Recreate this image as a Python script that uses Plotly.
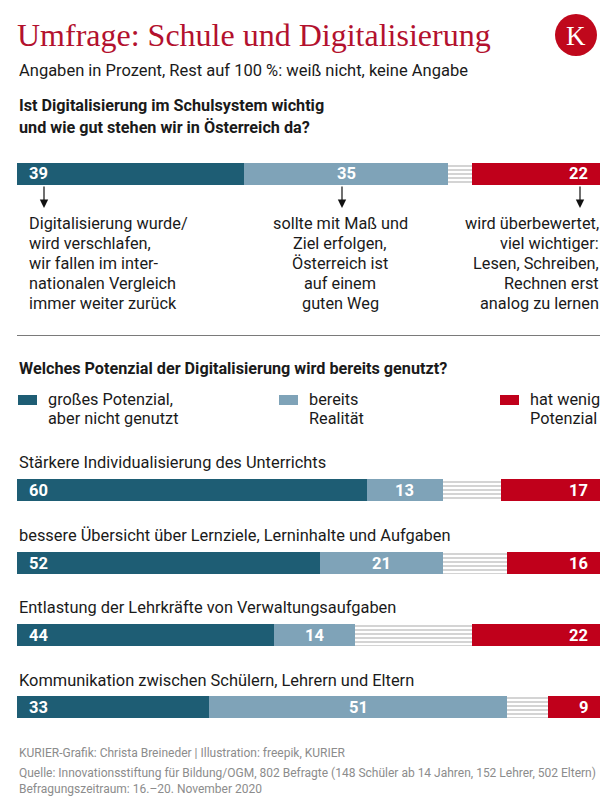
import plotly.graph_objects as go

W, H = 616, 809

# ---------------- data ----------------
q1_values = [39, 35, 4, 22]   # wurde verschlafen, mit Maß und Ziel, Rest, überbewertet

categories = [
    "Stärkere Individualisierung des Unterrichts",
    "bessere Übersicht über Lernziele, Lerninhalte und Aufgaben",
    "Entlastung der Lehrkräfte von Verwaltungsaufgaben",
    "Kommunikation zwischen Schülern, Lehrern und Eltern",
]
gross_potenzial = [60, 52, 44, 33]
bereits_realitaet = [13, 21, 14, 51]
rest_weiss_nicht = [10, 11, 20, 7]
wenig_potenzial = [17, 16, 22, 9]

legend_labels = ["großes Potenzial,<br>aber nicht genutzt", "bereits<br>Realität", "hat wenig<br>Potenzial"]

q1_texts = [
    ["Digitalisierung wurde/", "wird verschlafen,", "wir fallen im inter-", "nationalen Vergleich", "immer weiter zurück"],
    ["sollte mit Maß und", "Ziel erfolgen,", "Österreich ist", "auf einem", "guten Weg"],
    ["wird überbewertet,", "viel wichtiger:", "Lesen, Schreiben,", "Rechnen erst", "analog zu lernen"],
]

# ---------------- style / layout ----------------
DARK = "#1e5d74"
LIGHT = "#7fa3b8"
RED = "#c0001b"
TITLE_RED = "#b3112e"
FONT = "Roboto"
TXT = "#1a1a1a"

X0, X1 = 17, 600
top_bar_y = 173.5
cat_bar_y = [490, 563, 635, 707]
cat_label_y = [462, 535, 607, 680]
BAR_W = 22


def px(x):
    return x / W


def py(y):
    return 1 - y / H


fig = go.Figure()

def add_segments(ys, dark, light, rest, red):
    fig.add_trace(go.Bar(x=dark, y=ys, orientation="h", width=BAR_W, marker=dict(color=DARK, line=dict(width=0)), hoverinfo="skip"))
    fig.add_trace(go.Bar(x=light, y=ys, orientation="h", width=BAR_W, marker=dict(color=LIGHT, line=dict(width=0)), hoverinfo="skip"))
    fig.add_trace(go.Bar(x=rest, y=ys, orientation="h", width=BAR_W,
                         marker=dict(color="white", line=dict(width=0),
                                     pattern=dict(shape="-", fgcolor="#b8b8b8", bgcolor="white", size=4, solidity=0.3, fillmode="replace")),
                         hoverinfo="skip"))
    fig.add_trace(go.Bar(x=red, y=ys, orientation="h", width=BAR_W, marker=dict(color=RED, line=dict(width=0)), hoverinfo="skip"))


add_segments([top_bar_y], [q1_values[0]], [q1_values[1]], [q1_values[2]], [q1_values[3]])
add_segments(cat_bar_y, gross_potenzial, bereits_realitaet, rest_weiss_nicht, wenig_potenzial)

ann = []


def text(x, y, s, size=16, color=TXT, anchor="left", family=FONT, bold=False):
    ann.append(dict(x=px(x), y=py(y), xref="paper", yref="paper", text=(f"<b>{s}</b>" if bold else s),
                    showarrow=False, xanchor=anchor, yanchor="middle",
                    font=dict(family=family, size=size, color=color)))


def bar_labels(y, d, l, r):
    lab = dict(family=FONT, size=16.5, color="white")
    ann.append(dict(x=0, y=y, xref="x", yref="y", text=f"<b>{d}</b>", showarrow=False, xanchor="left", xshift=10, font=lab))
    ann.append(dict(x=d + l / 2, y=y, xref="x", yref="y", text=f"<b>{l}</b>", showarrow=False, xanchor="center", font=lab))
    ann.append(dict(x=100, y=y, xref="x", yref="y", text=f"<b>{r}</b>", showarrow=False, xanchor="right", xshift=-10, font=lab))


# title & subtitle
text(15, 35, "Umfrage: Schule und Digitalisierung", size=32, color=TITLE_RED, family="Liberation Serif")
text(17, 71, "Angaben in Prozent, Rest auf 100 %: weiß nicht, keine Angabe", size=16.5)
text(17, 106, "Ist Digitalisierung im Schulsystem wichtig", size=16.2, bold=True)
text(17, 128, "und wie gut stehen wir in Österreich da?", size=16.2, bold=True)

# top bar labels
bar_labels(top_bar_y, q1_values[0], q1_values[1], q1_values[3])

# arrows
for ax_ in [44, 342, 580]:
    ann.append(dict(x=px(ax_), y=py(208), xref="paper", yref="paper", text="", showarrow=True,
                    ax=0, ay=-23, arrowhead=2, arrowsize=1.4, arrowwidth=1.2, arrowcolor="#111"))

# annotation texts under top bar
line_y = [223, 243, 263, 283, 303]
for i, ln in enumerate(q1_texts[0]):
    text(27, line_y[i], ln, size=16.3)
for i, ln in enumerate(q1_texts[1]):
    text(340, line_y[i], ln, size=16.3, anchor="center")
for i, ln in enumerate(q1_texts[2]):
    text(601, line_y[i], ln, size=16.3, anchor="right")

# second question
text(17, 368, "Welches Potenzial der Digitalisierung wird bereits genutzt?", size=16.2, bold=True)

# legend
leg_x = [18, 279, 500]
leg_colors = [DARK, LIGHT, RED]
shapes = []
for lx, lc, lt in zip(leg_x, leg_colors, legend_labels):
    shapes.append(dict(type="rect", xref="paper", yref="paper", x0=px(lx), x1=px(lx + 19), y0=py(405), y1=py(395),
                       fillcolor=lc, line=dict(width=0)))
    l1, l2 = lt.split("<br>")
    text(lx + 28, 399, l1, size=16.3)
    text(lx + 28, 418, l2, size=16.3)

# categories
for lab, yb, yl, d, l, r in zip(categories, cat_bar_y, cat_label_y, gross_potenzial, bereits_realitaet, wenig_potenzial):
    text(17, yl, lab, size=16.4)
    bar_labels(yb, d, l, r)

# footer
FOOT = "#8c8c8c"
text(17, 753, "KURIER-Grafik: Christa Breineder | Illustration: freepik, KURIER", size=12, color=FOOT)
text(17, 773, "Quelle: Innovationsstiftung für Bildung/OGM, 802 Befragte (148 Schüler ab 14 Jahren, 152 Lehrer, 502 Eltern)", size=12, color=FOOT)
text(17, 789, "Befragungszeitraum: 16.–20. November 2020", size=12, color=FOOT)

# separator line
shapes.append(dict(type="line", xref="paper", yref="paper", x0=px(X0), x1=px(X1), y0=py(335.5), y1=py(335.5),
                   line=dict(color="#7a7a7a", width=1)))

# logo
shapes.append(dict(type="circle", xref="paper", yref="paper", x0=px(555), x1=px(597), y0=py(56), y1=py(14),
                   fillcolor="#c0081c", line=dict(width=0)))
ann.append(dict(x=px(576), y=py(36), xref="paper", yref="paper", text="K", showarrow=False,
                xanchor="center", yanchor="middle", font=dict(family="Liberation Serif", size=27, color="white")))

fig.update_layout(
    width=W, height=H, autosize=False,
    margin=dict(l=0, r=0, t=0, b=0),
    paper_bgcolor="white", plot_bgcolor="white",
    barmode="stack", bargap=0, showlegend=False,
    xaxis=dict(domain=[px(X0), px(X1)], range=[0, 100], visible=False, fixedrange=True),
    yaxis=dict(domain=[0, 1], range=[H, 0], visible=False, fixedrange=True),
    annotations=ann, shapes=shapes,
)

fig.write_html("out.html", config={"displayModeBar": False},
               post_script="document.body.style.margin='0';document.body.style.overflow='hidden';")
